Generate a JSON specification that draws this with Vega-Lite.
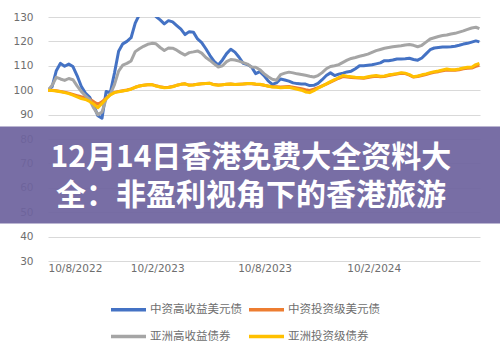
{
  "$schema": "https://vega.github.io/schema/vega-lite/v6.json",
  "width": 432,
  "height": 244,
  "autosize": "none",
  "padding": {"left": 48, "top": 17, "right": 20, "bottom": 92},
  "background": "white",
  "config": {"view": {"stroke": null}},
  "datasets": {
    "bonds": [
      {"d":"2022-08-10","中资高收益美元债":100,"中资投资级美元债":100,"亚洲高收益债券":100,"亚洲投资级债券":100},
      {"d":"2022-08-17","中资高收益美元债":101.5,"中资投资级美元债":100,"亚洲高收益债券":102,"亚洲投资级债券":99.9},
      {"d":"2022-08-24","中资高收益美元债":108,"中资投资级美元债":99.8,"亚洲高收益债券":105.3,"亚洲投资级债券":99.7},
      {"d":"2022-08-31","中资高收益美元债":111,"中资投资级美元债":99.5,"亚洲高收益债券":104.6,"亚洲投资级债券":99.4},
      {"d":"2022-09-07","中资高收益美元债":109.8,"中资投资级美元债":99.2,"亚洲高收益债券":104,"亚洲投资级债券":99},
      {"d":"2022-09-14","中资高收益美元债":110.7,"中资投资级美元债":98.8,"亚洲高收益债券":104.8,"亚洲投资级债券":98.6},
      {"d":"2022-09-21","中资高收益美元债":109.7,"中资投资级美元债":98.3,"亚洲高收益债券":104.3,"亚洲投资级债券":98},
      {"d":"2022-09-28","中资高收益美元债":106,"中资投资级美元债":97.8,"亚洲高收益债券":101.8,"亚洲投资级债券":97.3},
      {"d":"2022-10-05","中资高收益美元债":101.6,"中资投资级美元债":97.3,"亚洲高收益债券":99.5,"亚洲投资级债券":96.6},
      {"d":"2022-10-12","中资高收益美元债":98.8,"中资投资级美元债":96.9,"亚洲高收益债券":97.8,"亚洲投资级债券":96.2},
      {"d":"2022-10-19","中资高收益美元债":97.2,"中资投资级美元债":96.3,"亚洲高收益债券":96.2,"亚洲投资级债券":95.4},
      {"d":"2022-10-26","中资高收益美元债":93.8,"中资投资级美元债":95.3,"亚洲高收益债券":92.7,"亚洲投资级债券":94.3},
      {"d":"2022-11-02","中资高收益美元债":89.5,"中资投资级美元债":94.2,"亚洲高收益债券":90,"亚洲投资级债券":92.8},
      {"d":"2022-11-09","中资高收益美元债":88.5,"中资投资级美元债":95.2,"亚洲高收益债券":91,"亚洲投资级债券":94.6},
      {"d":"2022-11-16","中资高收益美元债":99.5,"中资投资级美元债":96.8,"亚洲高收益债券":96.5,"亚洲投资级债券":96.5},
      {"d":"2022-11-23","中资高收益美元债":99,"中资投资级美元债":98.3,"亚洲高收益债券":98.4,"亚洲投资级债券":98.1},
      {"d":"2022-11-30","中资高收益美元债":107,"中资投资级美元债":99.1,"亚洲高收益债券":102.3,"亚洲投资级债券":99},
      {"d":"2022-12-07","中资高收益美元债":116,"中资投资级美元债":99.5,"亚洲高收益债券":107.8,"亚洲投资级债券":99.4},
      {"d":"2022-12-14","中资高收益美元债":119,"中资投资级美元债":99.8,"亚洲高收益债券":110.3,"亚洲投资级债券":99.7},
      {"d":"2022-12-21","中资高收益美元债":120,"中资投资级美元债":100.1,"亚洲高收益债券":111,"亚洲投资级债券":100},
      {"d":"2022-12-28","中资高收益美元债":121.5,"中资投资级美元债":100.5,"亚洲高收益债券":112,"亚洲投资级债券":100.4},
      {"d":"2023-01-04","中资高收益美元债":127.5,"中资投资级美元债":101.2,"亚洲高收益债券":115.8,"亚洲投资级债券":101.2},
      {"d":"2023-01-11","中资高收益美元债":131,"中资投资级美元债":101.7,"亚洲高收益债券":117,"亚洲投资级债券":101.7},
      {"d":"2023-01-18","中资高收益美元债":132,"中资投资级美元债":102,"亚洲高收益债券":118,"亚洲投资级债券":102},
      {"d":"2023-01-25","中资高收益美元债":133,"中资投资级美元债":102.2,"亚洲高收益债券":118.8,"亚洲投资级债券":102.2},
      {"d":"2023-02-01","中资高收益美元债":132,"中资投资级美元债":102.3,"亚洲高收益债券":119.2,"亚洲投资级债券":102.3},
      {"d":"2023-02-08","中资高收益美元债":130.2,"中资投资级美元债":101.8,"亚洲高收益债券":119,"亚洲投资级债券":101.7},
      {"d":"2023-02-15","中资高收益美元债":128.8,"中资投资级美元债":101.4,"亚洲高收益债券":117.5,"亚洲投资级债券":101.3},
      {"d":"2023-02-22","中资高收益美元债":127.2,"中资投资级美元债":101.1,"亚洲高收益债券":116.3,"亚洲投资级债券":101},
      {"d":"2023-03-01","中资高收益美元债":128.5,"中资投资级美元债":101.2,"亚洲高收益债券":117.3,"亚洲投资级债券":101.1},
      {"d":"2023-03-08","中资高收益美元债":128,"中资投资级美元债":101.5,"亚洲高收益债券":117.2,"亚洲投资级债券":101.4},
      {"d":"2023-03-15","中资高收益美元债":126.5,"中资投资级美元债":102,"亚洲高收益债券":116.4,"亚洲投资级债券":102},
      {"d":"2023-03-22","中资高收益美元债":125,"中资投资级美元债":102.4,"亚洲高收益债券":115.3,"亚洲投资级债券":102.4},
      {"d":"2023-03-29","中资高收益美元债":122.8,"中资投资级美元债":102.6,"亚洲高收益债券":114.4,"亚洲投资级债券":102.6},
      {"d":"2023-04-05","中资高收益美元债":124,"中资投资级美元债":102.1,"亚洲高收益债券":115.4,"亚洲投资级债券":102},
      {"d":"2023-04-12","中资高收益美元债":123.8,"中资投资级美元债":102.2,"亚洲高收益债券":115.7,"亚洲投资级债券":102.1},
      {"d":"2023-04-19","中资高收益美元债":121,"中资投资级美元债":102.4,"亚洲高收益债券":116.1,"亚洲投资级债券":102.4},
      {"d":"2023-04-26","中资高收益美元债":119.5,"中资投资级美元债":102.6,"亚洲高收益债券":115.2,"亚洲投资级债券":102.6},
      {"d":"2023-05-03","中资高收益美元债":117,"中资投资级美元债":102.7,"亚洲高收益债券":113.4,"亚洲投资级债券":102.7},
      {"d":"2023-05-10","中资高收益美元债":114.2,"中资投资级美元债":102.8,"亚洲高收益债券":112.2,"亚洲投资级债券":102.8},
      {"d":"2023-05-17","中资高收益美元债":111.8,"中资投资级美元债":102.3,"亚洲高收益债券":110.8,"亚洲投资级债券":102.2},
      {"d":"2023-05-24","中资高收益美元债":110.3,"中资投资级美元债":102.1,"亚洲高收益债券":109.5,"亚洲投资级债券":102},
      {"d":"2023-05-31","中资高收益美元债":112.4,"中资投资级美元债":102.2,"亚洲高收益债券":110,"亚洲投资级债券":102.2},
      {"d":"2023-06-07","中资高收益美元债":115,"中资投资级美元债":102.4,"亚洲高收益债券":111.7,"亚洲投资级债券":102.4},
      {"d":"2023-06-14","中资高收益美元债":116.8,"中资投资级美元债":102.5,"亚洲高收益债券":112.6,"亚洲投资级债券":102.5},
      {"d":"2023-06-21","中资高收益美元债":115.6,"中资投资级美元债":102.3,"亚洲高收益债券":112.4,"亚洲投资级债券":102.3},
      {"d":"2023-06-28","中资高收益美元债":113.5,"中资投资级美元债":102.4,"亚洲高收益债券":111.9,"亚洲投资级债券":102.4},
      {"d":"2023-07-05","中资高收益美元债":111,"中资投资级美元债":102.5,"亚洲高收益债券":111.3,"亚洲投资级债券":102.5},
      {"d":"2023-07-12","中资高收益美元债":110.5,"中资投资级美元债":102.6,"亚洲高收益债券":110.7,"亚洲投资级债券":102.7},
      {"d":"2023-07-19","中资高收益美元债":109.5,"中资投资级美元债":102.6,"亚洲高收益债券":109.5,"亚洲投资级债券":102.7},
      {"d":"2023-07-26","中资高收益美元债":106.8,"中资投资级美元债":102.4,"亚洲高收益债券":109.4,"亚洲投资级债券":102.5},
      {"d":"2023-08-02","中资高收益美元债":107.6,"中资投资级美元债":102.3,"亚洲高收益债券":108.4,"亚洲投资级债券":102.4},
      {"d":"2023-08-09","中资高收益美元债":106,"中资投资级美元债":102,"亚洲高收益债券":106.8,"亚洲投资级债券":102.1},
      {"d":"2023-08-16","中资高收益美元债":103.8,"中资投资级美元债":101.7,"亚洲高收益债券":105.5,"亚洲投资级债券":101.6},
      {"d":"2023-08-23","中资高收益美元债":102.4,"中资投资级美元债":101.4,"亚洲高收益债券":104.5,"亚洲投资级债券":101.3},
      {"d":"2023-08-30","中资高收益美元债":103,"中资投资级美元债":101.4,"亚洲高收益债券":104.1,"亚洲投资级债券":101.2},
      {"d":"2023-09-06","中资高收益美元债":104.6,"中资投资级美元债":101.3,"亚洲高收益债券":106.4,"亚洲投资级债券":101},
      {"d":"2023-09-13","中资高收益美元债":104.2,"中资投资级美元债":101.4,"亚洲高收益债券":107,"亚洲投资级债券":101.1},
      {"d":"2023-09-20","中资高收益美元债":103.7,"中资投资级美元债":101.5,"亚洲高收益债券":107.4,"亚洲投资级债券":101.2},
      {"d":"2023-09-27","中资高收益美元债":103,"中资投资级美元债":101.2,"亚洲高收益债券":107.1,"亚洲投资级债券":100.8},
      {"d":"2023-10-04","中资高收益美元债":102.7,"中资投资级美元债":100.9,"亚洲高收益债券":106.7,"亚洲投资级债券":100.4},
      {"d":"2023-10-11","中资高收益美元债":102.5,"中资投资级美元债":100.6,"亚洲高收益债券":106.4,"亚洲投资级债券":100},
      {"d":"2023-10-18","中资高收益美元债":102.5,"中资投资级美元债":100.2,"亚洲高收益债券":106.1,"亚洲投资级债券":99.3},
      {"d":"2023-10-25","中资高收益美元债":101.9,"中资投资级美元债":99.9,"亚洲高收益债券":105.7,"亚洲投资级债券":99},
      {"d":"2023-11-01","中资高收益美元债":102,"中资投资级美元债":100.4,"亚洲高收益债券":105.4,"亚洲投资级债券":99.8},
      {"d":"2023-11-08","中资高收益美元债":102.8,"中资投资级美元债":101.1,"亚洲高收益债券":106,"亚洲投资级债券":100.8},
      {"d":"2023-11-15","中资高收益美元债":104.3,"中资投资级美元债":101.8,"亚洲高收益债券":107.2,"亚洲投资级债券":101.7},
      {"d":"2023-11-22","中资高收益美元债":106,"中资投资级美元债":102.5,"亚洲高收益债券":108.8,"亚洲投资级债券":102.6},
      {"d":"2023-11-29","中资高收益美元债":107.1,"中资投资级美元债":103.3,"亚洲高收益债券":109.7,"亚洲投资级债券":103.5},
      {"d":"2023-12-06","中资高收益美元债":106,"中资投资级美元债":104.1,"亚洲高收益债券":110,"亚洲投资级债券":104.3},
      {"d":"2023-12-13","中资高收益美元债":106.6,"中资投资级美元债":104.9,"亚洲高收益债券":110.5,"亚洲投资级债券":105.2},
      {"d":"2023-12-20","中资高收益美元债":107,"中资投资级美元债":105.6,"亚洲高收益债券":111.4,"亚洲投资级债券":106},
      {"d":"2023-12-27","中资高收益美元债":107.5,"中资投资级美元债":105.4,"亚洲高收益债券":112.3,"亚洲投资级债券":105.7},
      {"d":"2024-01-03","中资高收益美元债":107.8,"中资投资级美元债":105.2,"亚洲高收益债券":113,"亚洲投资级债券":105.5},
      {"d":"2024-01-10","中资高收益美元债":108.8,"中资投资级美元债":105.1,"亚洲高收益债券":113.4,"亚洲投资级债券":105.3},
      {"d":"2024-01-17","中资高收益美元债":110,"中资投资级美元债":105,"亚洲高收益债券":113.9,"亚洲投资级债券":105.2},
      {"d":"2024-01-24","中资高收益美元债":110,"中资投资级美元债":104.9,"亚洲高收益债券":114.3,"亚洲投资级债券":105.1},
      {"d":"2024-01-31","中资高收益美元债":110.2,"中资投资级美元债":105.2,"亚洲高收益债券":114.8,"亚洲投资级债券":105.5},
      {"d":"2024-02-07","中资高收益美元债":110.4,"中资投资级美元债":105.5,"亚洲高收益债券":115.5,"亚洲投资级债券":105.8},
      {"d":"2024-02-14","中资高收益美元债":110.8,"中资投资级美元债":105.7,"亚洲高收益债券":116.2,"亚洲投资级债券":106},
      {"d":"2024-02-21","中资高收益美元债":111.2,"中资投资级美元债":105.5,"亚洲高收益债券":116.7,"亚洲投资级债券":105.7},
      {"d":"2024-02-28","中资高收益美元债":112.1,"中资投资级美元债":105.6,"亚洲高收益债券":117.2,"亚洲投资级债券":105.8},
      {"d":"2024-03-06","中资高收益美元债":112.1,"中资投资级美元债":106,"亚洲高收益债券":117.5,"亚洲投资级债券":106.3},
      {"d":"2024-03-13","中资高收益美元债":112.4,"中资投资级美元债":106.3,"亚洲高收益债券":117.8,"亚洲投资级债券":106.5},
      {"d":"2024-03-20","中资高收益美元债":112.8,"中资投资级美元债":106.6,"亚洲高收益债券":118,"亚洲投资级债券":106.8},
      {"d":"2024-03-27","中资高收益美元债":112.8,"中资投资级美元债":106.9,"亚洲高收益债券":118.2,"亚洲投资级债券":107.2},
      {"d":"2024-04-03","中资高收益美元债":112.9,"中资投资级美元债":106.8,"亚洲高收益债券":118.5,"亚洲投资级债券":107},
      {"d":"2024-04-10","中资高收益美元债":113.1,"中资投资级美元债":106.2,"亚洲高收益债券":118.7,"亚洲投资级债券":106.4},
      {"d":"2024-04-17","中资高收益美元债":112.6,"中资投资级美元债":105.4,"亚洲高收益债券":118.4,"亚洲投资级债券":105.5},
      {"d":"2024-04-24","中资高收益美元债":112.3,"中资投资级美元债":105.6,"亚洲高收益债券":117.8,"亚洲投资级债券":105.8},
      {"d":"2024-05-01","中资高收益美元债":113.2,"中资投资级美元债":106,"亚洲高收益债券":118.4,"亚洲投资级债券":106.3},
      {"d":"2024-05-08","中资高收益美元债":114.9,"中资投资级美元债":106.4,"亚洲高收益债券":119.7,"亚洲投资级债券":106.7},
      {"d":"2024-05-15","中资高收益美元债":116.6,"中资投资级美元债":106.9,"亚洲高收益债券":121,"亚洲投资级债券":107.2},
      {"d":"2024-05-22","中资高收益美元债":117.3,"中资投资级美元债":107.3,"亚洲高收益债券":121.5,"亚洲投资级债券":107.6},
      {"d":"2024-05-29","中资高收益美元债":117.5,"中资投资级美元债":107.6,"亚洲高收益债券":122,"亚洲投资级债券":107.9},
      {"d":"2024-06-05","中资高收益美元债":117.7,"中资投资级美元债":108,"亚洲高收益债券":122.4,"亚洲投资级债券":108.3},
      {"d":"2024-06-12","中资高收益美元债":117.7,"中资投资级美元债":108.3,"亚洲高收益债券":122.6,"亚洲投资级债券":108.7},
      {"d":"2024-06-19","中资高收益美元债":117.8,"中资投资级美元债":108.2,"亚洲高收益债券":123,"亚洲投资级债券":108.4},
      {"d":"2024-06-26","中资高收益美元债":118,"中资投资级美元债":108.2,"亚洲高收益债券":123.3,"亚洲投资级债券":108.4},
      {"d":"2024-07-03","中资高收益美元债":118.4,"中资投资级美元债":108.4,"亚洲高收益债券":123.8,"亚洲投资级债券":108.7},
      {"d":"2024-07-10","中资高收益美元债":118.9,"中资投资级美元债":108.8,"亚洲高收益债券":124.3,"亚洲投资级债券":109.1},
      {"d":"2024-07-17","中资高收益美元债":119.2,"中资投资级美元债":109,"亚洲高收益债券":124.9,"亚洲投资级债券":109.4},
      {"d":"2024-07-24","中资高收益美元债":119.7,"中资投资级美元债":109.1,"亚洲高收益债券":125.5,"亚洲投资级债券":109.4},
      {"d":"2024-07-31","中资高收益美元债":120.2,"中资投资级美元债":109.8,"亚洲高收益债券":125.8,"亚洲投资级债券":110.5},
      {"d":"2024-08-06","中资高收益美元债":119.8,"中资投资级美元债":110.2,"亚洲高收益债券":125.2,"亚洲投资级债券":111}
    ]
  },
  "encoding": {
    "x": {
      "field": "d", "type": "temporal",
      "scale": {"type": "utc", "domain": [{"year": 2022, "month": 8, "date": 10, "utc": true}, {"year": 2024, "month": 8, "date": 7, "utc": true}]},
      "axis": {
        "values": [{"year": 2022, "month": 8, "date": 10, "utc": true}, {"year": 2023, "month": 2, "date": 10, "utc": true}, {"year": 2023, "month": 8, "date": 10, "utc": true}, {"year": 2024, "month": 2, "date": 10, "utc": true}],
        "labelExpr": "utcFormat(datum.value, '%d/%-m/%Y')",
        "title": null, "grid": false, "domain": false, "ticks": false,
        "labelFont": "DejaVu Sans", "labelFontSize": 10.5, "labelColor": "#6e6e6e", "labelPadding": 2, "labelOverlap": false
      }
    },
    "y": {
      "field": "value", "type": "quantitative",
      "scale": {"domain": [30, 130], "nice": false, "zero": false},
      "axis": {
        "values": [30, 40, 50, 60, 70, 80, 90, 100, 110, 120, 130],
        "title": null, "domain": false, "ticks": false, "gridColor": "#d9d9d9", "gridWidth": 1.2, "labelOverlap": false,
        "labelFont": "DejaVu Sans", "labelFontSize": 10.5, "labelColor": "#6e6e6e", "labelPadding": 15
      }
    }
  },
  "layer": [
    {
      "data": {"name": "bonds"},
      "transform": [
        {"fold": ["中资高收益美元债", "中资投资级美元债", "亚洲高收益债券", "亚洲投资级债券"], "as": ["series", "value"]}
      ],
      "mark": {"type": "line", "strokeWidth": 3, "strokeJoin": "round", "clip": true},
      "encoding": {
        "color": {
          "field": "series", "type": "nominal",
          "scale": {"domain": ["中资高收益美元债", "中资投资级美元债", "亚洲高收益债券", "亚洲投资级债券"], "range": ["#4472c4", "#ed7d31", "#a5a5a5", "#ffc000"]},
          "legend": {
            "title": null, "orient": "none", "legendX": 61, "legendY": 273, "direction": "horizontal", "columns": 2,
            "gridAlign": "each",
            "symbolType": "stroke", "symbolSize": 1225, "symbolStrokeWidth": 3.5,
            "labelFont": "Noto Sans CJK SC", "labelFontSize": 11.5, "labelColor": "#6e6e6e", "labelOffset": 2,
            "columnPadding": 0, "rowPadding": -9
          }
        }
      }
    },
    {
      "data": {"values": [{"d": "2022-04-01", "d2": "2024-11-01", "value": 45.4, "value2": 85.1}]},
      "mark": {"type": "rect", "clip": false, "color": "#6e639e", "opacity": 0.93},
      "encoding": {
        "x2": {"field": "d2"},
        "y2": {"field": "value2"}
      }
    },
    {
      "data": {"values": [
        {"d": "2023-07-18", "value": 72.2, "t": "12月14日香港免费大全资料大"},
        {"d": "2023-07-18", "value": 56.6, "t": "全：非盈利视角下的香港旅游"}
      ]},
      "mark": {"type": "text", "clip": false, "color": "white", "font": "Noto Sans CJK SC", "fontWeight": "bold", "fontSize": 30, "align": "center", "baseline": "middle"},
      "encoding": {
        "text": {"field": "t"}
      }
    }
  ]
}
